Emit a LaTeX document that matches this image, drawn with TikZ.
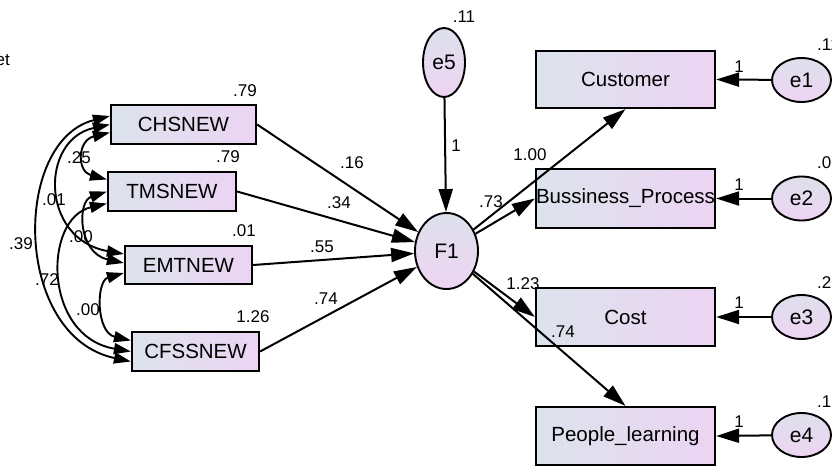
\documentclass[tikz,border=0pt]{standalone}
\usepackage{fontspec}
\setmainfont{Liberation Sans}
\usetikzlibrary{arrows.meta,shapes.geometric,calc}
\definecolor{boxL}{RGB}{220,227,236}
\definecolor{boxR}{RGB}{236,212,243}
\definecolor{ellT}{RGB}{221,224,236}
\definecolor{ellB}{RGB}{238,212,242}
\begin{document}
\begin{tikzpicture}[x=1pt,y=-1pt,
  obs/.style={draw, line width=2.2pt, left color=boxL, right color=boxR, inner sep=0pt,
    font=\fontsize{20.5}{22}\selectfont},
  lat/.style={ellipse, draw, line width=1.9pt, top color=ellT, bottom color=ellB, inner sep=0pt,
    font=\fontsize{21}{22}\selectfont},
  pth/.style={line width=2pt, -{Triangle[length=23pt,width=14pt]}},
  cov/.style={line width=1.9pt, {Triangle[length=17pt,width=11pt]}-{Triangle[length=17pt,width=11pt]}},
  num/.style={font=\fontsize{17}{19}\selectfont, inner sep=0pt}
]
\useasboundingbox[fill=white] (0,0) rectangle (832,466);

% left observed boxes
\node[obs, minimum width=145pt, minimum height=39pt] (CHS) at (183.5,124.5) {CHSNEW};
\node[obs, minimum width=128pt, minimum height=39pt] (TMS) at (172,191.5) {TMSNEW};
\node[obs, minimum width=127pt, minimum height=38pt] (EMT) at (188.5,265) {EMTNEW};
\node[obs, minimum width=127pt, minimum height=39pt] (CFSS) at (195.5,351.5) {CFSSNEW};

% right boxes
\node[obs, minimum width=179pt, minimum height=57pt] (Cus) at (625.5,79.5) {Customer};
\node[obs, minimum width=179pt, minimum height=59pt] (BP) at (625.5,198.5) {Bussiness\_Process};
\node[obs, minimum width=179pt, minimum height=58pt] (Cost) at (625.5,317) {Cost};
\node[obs, minimum width=179pt, minimum height=58pt] (PL) at (625.5,436) {People\_learning};

% latent / error ellipses
\node[lat, minimum width=42pt, minimum height=69pt] (e5) at (444,62.5) {e5};
\node[lat, minimum width=63pt, minimum height=76pt] (F1) at (446.5,251) {F1};
\node[lat, minimum width=59pt, minimum height=44pt] (e1) at (801.5,80) {e1};
\node[lat, minimum width=59pt, minimum height=44pt] (e2) at (801.5,198.5) {e2};
\node[lat, minimum width=59pt, minimum height=44pt] (e3) at (801.5,317) {e3};
\node[lat, minimum width=59pt, minimum height=44pt] (e4) at (801.5,435) {e4};

% paths into F1
\draw[pth] (CHS.east) -- (F1);
\draw[pth] (TMS.east) -- (F1);
\draw[pth] (EMT.east) -- (F1);
\draw[pth] (CFSS.east) -- (F1);
\draw[pth] (e5) -- (F1);

% paths out of F1
\draw[pth] (F1) -- (Cus.south);
\draw[pth] (F1) -- (BP.west);
\draw[pth] (F1) -- (Cost.west);
\draw[pth] (F1) -- (PL.north);

% error paths
\draw[pth] (e1) -- (Cus.east);
\draw[pth] (e2) -- (BP.east);
\draw[pth] (e3) -- (Cost.east);
\draw[pth] (e4) -- (PL.east);

% covariances
\draw[cov] ($(CHS.west)+(0,8)$) .. controls +(-33,8) and +(-30,-8) .. ($(TMS.west)+(0,-12)$);
\draw[cov] (CHS.west) .. controls +(-70,15) and +(-84,-15) .. ($(EMT.west)+(0,-11)$);
\draw[cov] ($(CHS.west)+(0,-8.5)$) .. controls +(-98,25) and +(-118,-25) .. ($(CFSS.west)+(0,10)$);
\draw[cov] (TMS.west) .. controls +(-30,10) and +(-46,-10) .. ($(EMT.west)+(0,-2)$);
\draw[cov] ($(TMS.west)+(0,12)$) .. controls +(-64,15) and +(-88,-15) .. (CFSS.west);
\draw[cov] ($(EMT.west)+(0,8)$) .. controls +(-28,8) and +(-35,-8) .. ($(CFSS.west)+(0,-11)$);

% labels
\node[num, anchor=east] (lblet) at (10,60) {et};
\node[num] (l1) at (245,91) {.79};
\node[num] (l2) at (228,157) {.79};
\node[num] (l3) at (244,231) {.01};
\node[num] (l4) at (253,317) {1.26};
\node[num] (l5) at (352,163) {.16};
\node[num] (l6) at (339,203) {.34};
\node[num] (l7) at (322,247) {.55};
\node[num] (l8) at (326,299) {.74};
\node[num] (l9) at (456,146) {1};
\node[num] (l10) at (464,17) {.11};
\node[num] (l11) at (530,155) {1.00};
\node[num] (l12) at (491,202) {.73};
\node[num] (l13) at (523,284) {1.23};
\node[num] (l14) at (563,332) {.74};
\node[num] (l15) at (739,67) {1};
\node[num] (l16) at (739,185) {1};
\node[num] (l17) at (739,303) {1};
\node[num] (l18) at (739,422) {1};
\node[num, anchor=west] (l19) at (817,45) {.11};
\node[num, anchor=west] (l20) at (817,163) {.07};
\node[num, anchor=west] (l21) at (817,283) {.20};
\node[num, anchor=west] (l22) at (817,402) {.15};
% covariance labels
\node[num] (c1) at (79,158) {.25};
\node[num] (c2) at (54,200) {.01};
\node[num] (c3) at (21,244) {.39};
\node[num] (c4) at (81,237) {.00};
\node[num] (c5) at (47,280) {.72};
\node[num] (c6) at (88,310) {.00};
\end{tikzpicture}
\end{document}
